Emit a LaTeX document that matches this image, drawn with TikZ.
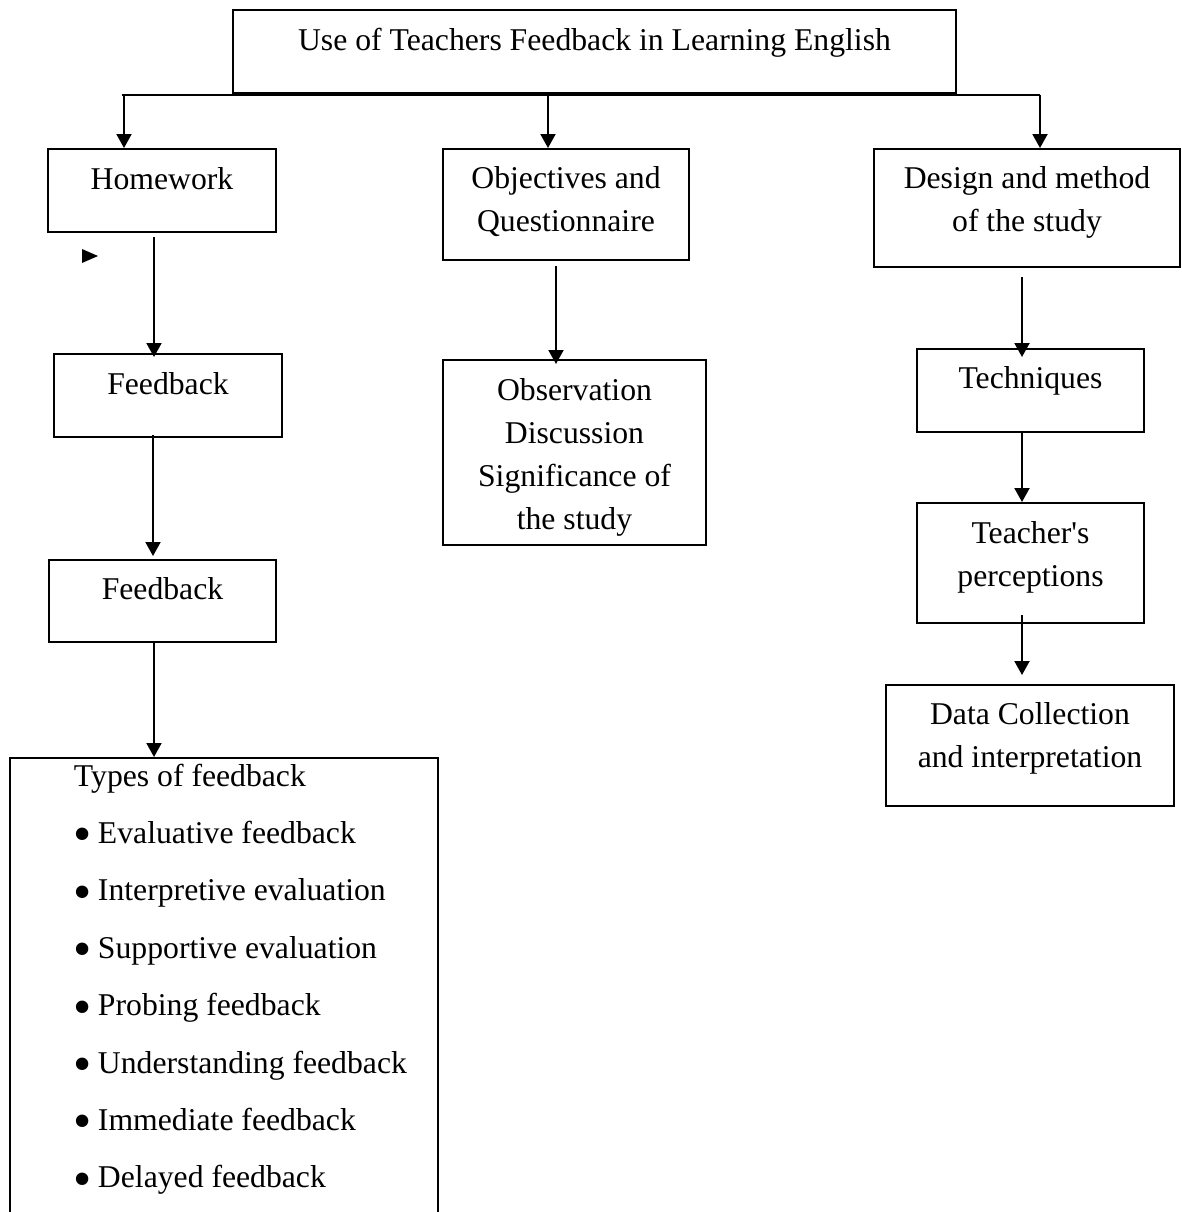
\documentclass[tikz,border=0pt]{standalone}
\usepackage{fontspec}
\setmainfont{Liberation Serif}
\usetikzlibrary{arrows.meta}

\tikzset{
  box/.style={draw, line width=1pt, anchor=north, align=center, inner sep=0pt},
  arr/.style={line width=1pt, -{Triangle[width=7.5pt,length=7pt]}},
}
\newcommand{\typebullet}{\makebox[12pt][l]{\raisebox{-4.2pt}{\fontsize{26}{26}\selectfont\textbullet}}}

\begin{document}
\begin{tikzpicture}[x=0.5pt, y=-0.5pt, font=\fontsize{15.85}{21.5}\selectfont]
\useasboundingbox (0,0) rectangle (1182,1212);
\clip (0,0) rectangle (1182,1212);

% top box
\node[box, minimum width=361.5pt, text height=20pt, text depth=21.5pt] (title) at (594.5,9) {Use of Teachers Feedback in Learning English};

% left column
\node[box, minimum width=114pt, text height=20pt, text depth=21.5pt] (hw) at (162,148) {Homework};
\node[box, minimum width=114pt, text height=20pt, text depth=21.5pt] (fbA) at (168,353) {Feedback};
\node[box, minimum width=113.5pt, text height=19.5pt, text depth=21.5pt] (fbB) at (162.5,559) {Feedback};
\node[box, anchor=north west, minimum width=214pt, text width=214pt, align=left, text height=14pt, text depth=230pt] (types) at (9,757)
  {\spaceskip=0pt\xspaceskip=0pt\def\arraystretch{1.335}%
   \begin{tabular}[t]{@{\hspace{32pt}}l@{}}
   Types of feedback\\
   \typebullet Evaluative feedback\\
   \typebullet Interpretive evaluation\\
   \typebullet Supportive evaluation\\
   \typebullet Probing feedback\\
   \typebullet Understanding feedback\\
   \typebullet Immediate feedback\\
   \typebullet Delayed feedback
   \end{tabular}};

% middle column
\node[box, minimum width=123pt, text height=41pt, text depth=14.5pt] (obj) at (566,148) {Objectives and\\Questionnaire};
\node[box, minimum width=131.5pt, text height=84.5pt, text depth=8pt] (obs) at (574.5,359) {Observation\\Discussion\\Significance of\\the study};

% right column
\node[box, minimum width=153pt, text height=41pt, text depth=18pt] (des) at (1027,148) {Design and method\\of the study};
\node[box, minimum width=113.5pt, text height=19.5pt, text depth=22pt] (tech) at (1030.5,348) {Techniques};
\node[box, minimum width=113.5pt, text height=41.5pt, text depth=18.5pt] (teach) at (1030.5,502) {Teacher\textquotesingle s\\perceptions};
\node[box, minimum width=144pt, text height=41pt, text depth=19.5pt] (data) at (1030,684) {Data Collection\\and interpretation};

% bar under the top box
\coordinate (barL) at (122,95);
\coordinate (barR) at (1040,95);
\draw[line width=1pt] (barL) -- (barR);
\coordinate (b1) at (124,95);
\coordinate (b2) at (548,95);
\coordinate (b3) at (1040,95);
\draw[arr] (b1) -- (b1 |- hw.north);
\draw[arr] (b2) -- (b2 |- obj.north);
\draw[arr] (b3) -- (b3 |- des.north);

% arrows down
\draw[arr] ([xshift=-4pt,yshift=-2pt]hw.south) -- ([xshift=-4pt,yshift=-2pt]hw.south |- fbA.north);
\draw[arr] ([xshift=-7.5pt,yshift=1.5pt]fbA.south) -- ([xshift=-7.5pt,yshift=1.5pt]fbA.south |- fbB.north);
\draw[arr] ([xshift=-4.25pt]fbB.south) -- ([xshift=-4.25pt]fbB.south |- types.north);
\draw[arr] ([xshift=-5pt,yshift=-2.5pt]obj.south) -- ([xshift=-5pt,yshift=-2.5pt]obj.south |- obs.north);
\draw[arr] ([xshift=-2.5pt,yshift=-4.5pt]des.south) -- ([xshift=-2.5pt,yshift=-4.5pt]des.south |- tech.north);
\draw[arr] ([xshift=-4.25pt]tech.south) -- ([xshift=-4.25pt]tech.south |- teach.north);
\draw[arr] ([xshift=-4.25pt,yshift=4.5pt]teach.south) -- ([xshift=-4.25pt,yshift=4.5pt]teach.south |- data.north);

% stray marker
\fill (82,249) -- (98,256) -- (82,263) -- cycle;
\end{tikzpicture}
\end{document}
